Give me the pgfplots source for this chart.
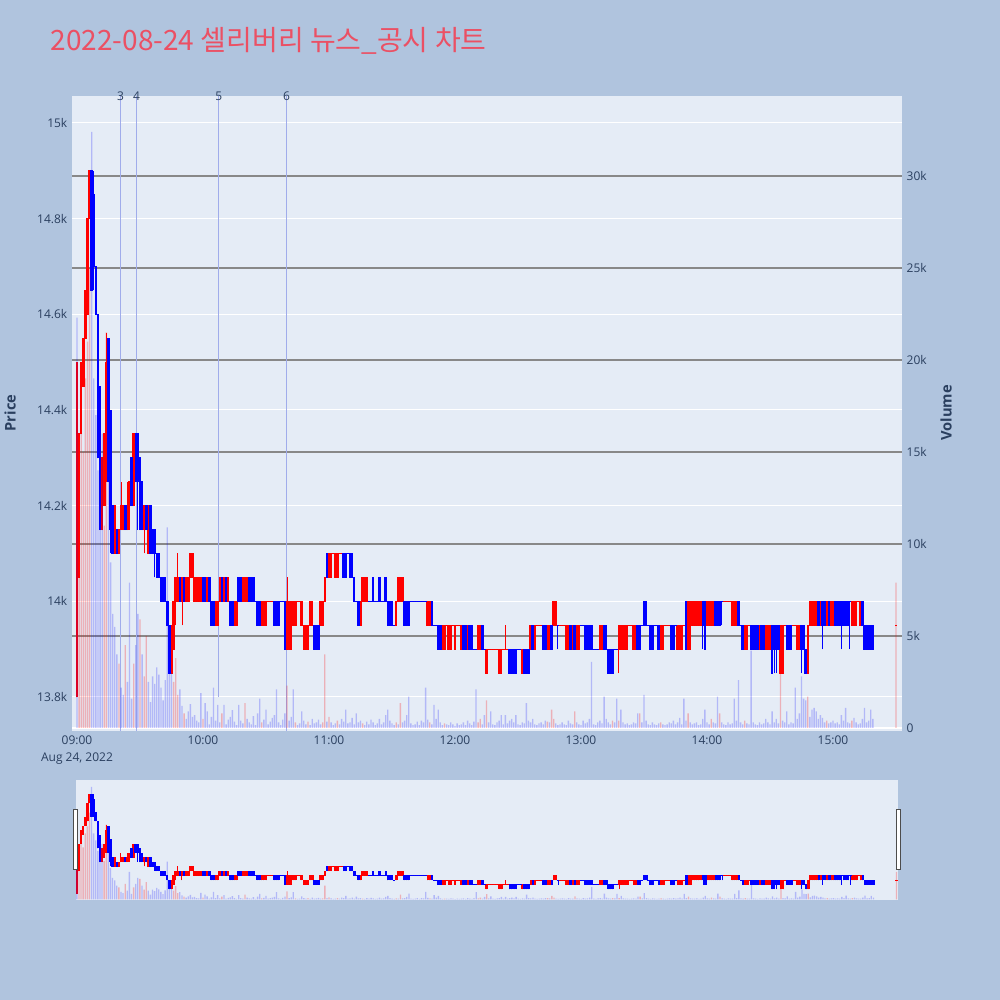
\documentclass[border=0pt]{standalone}
\usepackage{pgfplots}
\pgfplotsset{compat=1.18}
\usepackage{pgfplotstable}
\usepackage{fontspec}
\setmainfont{Open Sans}
\newfontfamily\kr{Noto Sans CJK KR}
\definecolor{pagebg}{HTML}{B0C4DE}
\definecolor{plotbg}{HTML}{E5ECF6}
\definecolor{txt}{HTML}{2A3F5F}
\definecolor{ttl}{RGB}{235,80,100}
\definecolor{vgrid}{RGB}{136,136,136}
\definecolor{evline}{RGB}{160,172,235}
\definecolor{cred}{RGB}{255,0,0}
\definecolor{cblue}{RGB}{0,0,255}

\pgfplotstableread[row sep=\\]{
m o h l c\\
0 13800 14500 13800 14500\\ 1 14050 14350 14050 14350\\ 2 14350 14500 14350 14500\\ 3 14450 14550 14450 14550\\
4 14550 14650 14550 14650\\ 5 14600 14800 14600 14800\\ 6 14800 14900 14800 14900\\ 12 14150 14300 14150 14300\\
13 14200 14350 14200 14350\\ 14 14250 14560 14250 14500\\ 18 14100 14200 14100 14200\\ 20 14100 14150 14100 14150\\
21 14150 14250 14150 14200\\ 22 14150 14200 14150 14200\\ 24 14150 14250 14150 14200\\ 25 14200 14250 14150 14250\\
27 14200 14350 14200 14350\\ 32 14150 14200 14100 14200\\ 34 14100 14200 14100 14200\\ 45 13850 13950 13850 13950\\
46 13900 14000 13900 14000\\ 47 14000 14050 13950 14050\\ 48 14000 14100 14000 14050\\ 50 14000 14050 13950 14050\\
52 14000 14050 14000 14050\\ 53 14000 14050 14000 14050\\ 54 14050 14100 14050 14100\\ 55 14050 14100 14050 14100\\
56 14000 14050 14000 14050\\ 57 14000 14050 14000 14050\\ 58 14000 14050 14000 14050\\ 59 14000 14050 14000 14050\\
62 14000 14050 14000 14050\\ 66 13950 14000 13950 14000\\ 67 13950 14000 13950 14000\\ 68 14000 14050 14000 14050\\
70 14000 14050 14000 14050\\ 72 14000 14050 14000 14050\\ 75 13950 14000 13950 14000\\ 76 13950 14000 13950 14000\\
79 14000 14050 14000 14050\\ 80 14000 14050 14000 14050\\ 81 14000 14050 14000 14050\\ 88 13950 14000 13950 14000\\
89 13950 14000 13950 14000\\ 90 13950 14000 13950 14000\\ 91 14000 14000 14000 14000\\ 92 14000 14000 14000 14000\\
93 14000 14000 14000 14000\\ 100 13900 14050 13900 14000\\ 101 13900 14000 13900 14000\\ 102 13900 14000 13900 14000\\
103 13950 14000 13950 14000\\ 104 13950 14000 13950 14000\\ 105 14000 14000 14000 14000\\ 106 14000 14000 14000 14000\\
107 13950 14000 13950 14000\\ 108 13900 13950 13900 13950\\ 109 13900 13950 13900 13950\\ 110 13900 13950 13900 13950\\
111 13950 14000 13950 14000\\ 112 13950 14000 13950 14000\\ 116 13950 14000 13950 14000\\ 117 13950 14000 13950 14000\\
118 14000 14050 14000 14050\\ 120 14050 14100 14050 14100\\ 121 14050 14100 14050 14100\\ 122 14100 14100 14100 14100\\
123 14050 14100 14050 14100\\ 124 14050 14100 14050 14100\\ 125 14100 14100 14100 14100\\ 126 14100 14100 14100 14100\\
135 13950 14000 13950 14000\\ 136 14000 14050 14000 14050\\ 137 14000 14050 14000 14050\\ 138 14000 14050 14000 14050\\
152 13950 14000 13950 14000\\ 153 14000 14050 14000 14050\\ 154 14000 14050 14000 14050\\ 155 14000 14050 14000 14050\\
167 13950 14000 13950 14000\\ 168 13950 14000 13950 14000\\ 174 13900 13950 13900 13950\\ 175 13900 13950 13900 13950\\
176 13950 13950 13950 13950\\ 177 13900 13950 13900 13950\\ 178 13900 13950 13900 13950\\ 179 13950 13950 13950 13950\\
180 13900 13950 13900 13950\\ 181 13950 13950 13950 13950\\ 182 13950 13950 13950 13950\\ 183 13900 13950 13900 13950\\
186 13900 13950 13900 13950\\ 191 13900 13950 13900 13950\\ 192 13900 13950 13900 13950\\ 195 13850 13900 13850 13900\\
196 13900 13900 13900 13900\\ 197 13900 13900 13900 13900\\ 198 13900 13900 13900 13900\\ 199 13900 13900 13900 13900\\
200 13900 13900 13900 13900\\ 201 13850 13900 13850 13900\\ 202 13850 13900 13850 13900\\ 203 13900 13900 13900 13900\\
204 13900 13950 13900 13900\\ 205 13900 13900 13900 13900\\ 212 13850 13900 13850 13900\\ 216 13900 13950 13900 13950\\
218 13900 13950 13900 13950\\ 219 13950 13950 13950 13950\\ 220 13950 13950 13950 13950\\ 221 13950 13950 13950 13950\\
224 13900 13950 13900 13950\\ 225 13900 13950 13900 13950\\ 227 13950 14000 13950 14000\\ 228 13950 14000 13950 14000\\
230 13950 13950 13950 13950\\ 231 13950 13950 13950 13950\\ 232 13950 13950 13950 13950\\ 233 13900 13950 13900 13950\\
234 13900 13950 13900 13950\\ 236 13900 13950 13900 13950\\ 238 13900 13950 13900 13950\\ 239 13900 13950 13900 13950\\
249 13900 13950 13900 13950\\ 250 13900 13950 13900 13950\\ 258 13900 13950 13850 13950\\ 259 13900 13950 13900 13950\\
260 13900 13950 13900 13950\\ 261 13900 13950 13900 13950\\ 262 13900 13950 13900 13950\\ 263 13950 13950 13950 13950\\
264 13950 13950 13950 13950\\ 265 13900 13950 13900 13950\\ 266 13900 13950 13900 13950\\ 278 13900 13950 13900 13950\\
279 13900 13950 13900 13950\\ 280 13950 13950 13950 13950\\ 281 13950 13950 13950 13950\\ 282 13950 13950 13950 13950\\
286 13900 13950 13900 13950\\ 287 13900 13950 13900 13950\\ 288 13900 13950 13900 13950\\ 289 13950 13950 13950 13950\\
291 13900 14000 13900 14000\\ 292 13900 14000 13900 14000\\ 293 13950 14000 13950 14000\\ 294 13950 14000 13950 14000\\
295 13950 14000 13950 14000\\ 296 13950 14000 13950 14000\\ 297 13950 14000 13950 14000\\ 300 13950 14000 13950 14000\\
301 13950 14000 13950 14000\\ 302 13950 14000 13950 14000\\ 303 13950 14000 13950 14000\\ 308 14000 14000 14000 14000\\
309 14000 14000 14000 14000\\ 310 14000 14000 14000 14000\\ 311 14000 14000 14000 14000\\ 312 13950 14000 13950 14000\\
313 13950 14000 13950 14000\\ 314 13950 14000 13950 14000\\ 318 13900 13950 13900 13950\\ 319 13900 13950 13900 13950\\
320 13950 13950 13950 13950\\ 325 13900 13950 13900 13950\\ 328 13900 13950 13900 13950\\ 329 13900 13950 13900 13950\\
330 13900 13950 13900 13950\\ 335 13850 13950 13850 13950\\ 336 13850 13950 13850 13950\\ 337 13950 13950 13950 13950\\
341 13950 13950 13950 13950\\ 342 13950 13950 13950 13950\\ 343 13900 13950 13900 13950\\ 344 13900 13950 13900 13950\\
348 13850 13950 13850 13950\\ 349 13950 14000 13950 14000\\ 350 13950 14000 13950 14000\\ 351 13950 14000 13950 14000\\
352 13950 14000 13950 14000\\ 354 13950 14000 13950 14000\\ 357 13950 14000 13950 14000\\ 359 13950 14000 13950 14000\\
360 13950 14000 13950 14000\\ 369 13950 14000 13950 14000\\ 370 13950 14000 13950 14000\\ 371 13950 14000 13950 14000\\
372 14000 14000 14000 14000\\ 373 13950 14000 13950 14000\\ 390 13950 13950 13950 13950\\
}\up

\pgfplotstableread[row sep=\\]{
m o h l c\\
7 14900 14900 14650 14650\\ 8 14850 14900 14650 14700\\ 9 14700 14700 14600 14600\\ 10 14600 14600 14300 14300\\
11 14450 14450 14150 14150\\ 15 14550 14550 14250 14250\\ 16 14400 14400 14100 14150\\ 17 14200 14200 14100 14100\\
19 14150 14150 14100 14100\\ 23 14200 14200 14150 14150\\ 26 14300 14300 14200 14200\\ 28 14350 14350 14250 14250\\
29 14350 14350 14150 14250\\ 30 14300 14300 14150 14150\\ 31 14250 14250 14150 14150\\ 33 14200 14200 14150 14150\\
35 14200 14200 14100 14100\\ 36 14150 14150 14100 14100\\ 37 14150 14150 14050 14100\\ 38 14100 14100 14050 14050\\
39 14100 14100 14050 14050\\ 40 14050 14050 14000 14000\\ 41 14050 14050 14000 14000\\ 42 14050 14050 14000 14000\\
43 14000 14000 13950 13950\\ 44 13950 13950 13850 13850\\ 49 14050 14050 14000 14000\\ 51 14050 14050 14000 14000\\
60 14050 14050 14000 14000\\ 61 14050 14050 14000 14000\\ 63 14050 14050 14000 14000\\ 64 14000 14000 13950 13950\\
65 14000 14000 13950 13950\\ 69 14050 14050 14000 14000\\ 71 14050 14050 14000 14000\\ 73 14000 14000 13950 13950\\
74 14000 14000 13950 13950\\ 77 14050 14050 14000 14000\\ 78 14050 14050 14000 14000\\ 82 14050 14050 14000 14000\\
83 14050 14050 14000 14000\\ 84 14050 14050 14000 14000\\ 85 14000 14000 14000 14000\\ 86 14000 14000 13950 13950\\
87 14000 14000 13950 13950\\ 94 14000 14000 13950 13950\\ 95 14000 14000 13950 13950\\ 96 14000 14000 13950 13950\\
97 14000 14000 14000 14000\\ 98 14000 14000 14000 14000\\ 99 14000 14000 13900 13900\\ 113 13950 13950 13900 13900\\
114 13950 13950 13900 13900\\ 115 13950 13950 13900 13900\\ 119 14100 14100 14050 14050\\ 127 14100 14100 14050 14050\\
128 14100 14100 14050 14050\\ 129 14100 14100 14100 14100\\ 130 14100 14100 14050 14050\\ 131 14100 14100 14050 14050\\
132 14050 14050 14000 14000\\ 133 14000 14000 14000 14000\\ 134 14000 14000 13950 13950\\ 139 14000 14000 14000 14000\\
140 14000 14000 14000 14000\\ 141 14050 14050 14000 14000\\ 142 14000 14000 14000 14000\\ 143 14000 14000 14000 14000\\
144 14050 14050 14000 14000\\ 145 14000 14000 14000 14000\\ 146 14000 14000 14000 14000\\ 147 14050 14050 14000 14000\\
148 14000 14000 13950 13950\\ 149 14000 14000 13950 13950\\ 150 14000 14000 13950 13950\\ 151 13950 13950 13950 13950\\
156 14000 14000 13950 13950\\ 157 14000 14000 13950 13950\\ 158 14000 14000 13950 13950\\ 159 14000 14000 14000 14000\\
160 14000 14000 14000 14000\\ 161 14000 14000 14000 14000\\ 162 14000 14000 14000 14000\\ 163 14000 14000 14000 14000\\
164 14000 14000 14000 14000\\ 165 14000 14000 14000 14000\\ 166 14000 14000 14000 14000\\ 169 14000 14000 13950 13950\\
170 13950 13950 13950 13950\\ 171 13950 13950 13950 13950\\ 172 13950 13950 13900 13900\\ 173 13950 13950 13900 13900\\
184 13950 13950 13900 13900\\ 185 13950 13950 13900 13900\\ 187 13950 13950 13900 13900\\ 188 13950 13950 13900 13900\\
189 13900 13900 13900 13900\\ 190 13900 13900 13900 13900\\ 193 13950 13950 13900 13900\\ 194 13900 13900 13900 13900\\
206 13900 13900 13850 13850\\ 207 13900 13900 13850 13850\\ 208 13900 13900 13850 13850\\ 209 13900 13900 13850 13850\\
210 13900 13900 13900 13900\\ 211 13900 13900 13900 13900\\ 213 13900 13900 13850 13850\\ 214 13900 13900 13850 13850\\
215 13900 13900 13850 13850\\ 217 13950 13950 13900 13900\\ 222 13950 13950 13900 13900\\ 223 13950 13950 13900 13900\\
226 13950 13950 13900 13900\\ 229 13950 13950 13900 13950\\ 235 13950 13950 13900 13900\\ 237 13950 13950 13900 13900\\
240 13950 13950 13950 13950\\ 241 13950 13950 13950 13950\\ 242 13950 13950 13900 13900\\ 243 13950 13950 13900 13900\\
244 13950 13950 13900 13900\\ 245 13950 13950 13900 13900\\ 246 13900 13900 13900 13900\\ 247 13900 13900 13900 13900\\
248 13900 13900 13900 13900\\ 251 13950 13950 13900 13900\\ 252 13950 13950 13900 13900\\ 253 13900 13900 13850 13850\\
254 13900 13900 13850 13850\\ 255 13900 13900 13850 13850\\ 256 13900 13900 13900 13900\\ 257 13900 13900 13900 13900\\
267 13950 13950 13900 13900\\ 268 13950 13950 13900 13900\\ 269 13950 13950 13950 13950\\ 270 14000 14000 13950 13950\\
271 14000 14000 13950 13950\\ 272 13950 13950 13950 13950\\ 273 13950 13950 13900 13900\\ 274 13950 13950 13900 13900\\
275 13950 13950 13950 13950\\ 276 13950 13950 13950 13950\\ 277 13950 13950 13900 13900\\ 283 13950 13950 13900 13900\\
284 13950 13950 13900 13900\\ 285 13950 13950 13950 13950\\ 290 14000 14000 13900 13900\\ 298 14000 14000 13900 13950\\
299 14000 14000 13900 13900\\ 304 14000 14000 13950 13950\\ 305 14000 14000 13950 13950\\ 306 14000 14000 13950 13950\\
307 14000 14000 13950 14000\\ 315 14000 14000 13950 13950\\ 316 13950 13950 13950 13950\\ 317 13950 13950 13900 13900\\
321 13950 13950 13900 13900\\ 322 13950 13950 13900 13900\\ 323 13950 13950 13900 13900\\ 324 13950 13950 13900 13900\\
326 13950 13950 13900 13900\\ 327 13950 13950 13900 13900\\ 331 13950 13950 13850 13850\\ 332 13950 13950 13850 13900\\
333 13950 13950 13850 13900\\ 334 13950 13950 13900 13900\\ 338 13950 13950 13900 13900\\ 339 13950 13950 13900 13900\\
340 13950 13950 13900 13900\\ 345 13950 13950 13850 13900\\ 346 13950 13950 13900 13900\\ 347 13900 13900 13850 13850\\
353 14000 14000 13950 13950\\ 355 14000 14000 13900 13950\\ 356 14000 14000 13950 13950\\ 358 14000 14000 13950 13950\\
361 14000 14000 13950 13950\\ 362 14000 14000 13950 13950\\ 363 14000 14000 13950 13950\\ 364 14000 14000 13900 14000\\
365 14000 14000 13950 13950\\ 366 14000 14000 13950 13950\\ 367 14000 14000 13950 13950\\ 368 14000 14000 13900 14000\\
374 14000 14000 13950 13950\\ 375 13950 13950 13900 13900\\ 376 13950 13950 13900 13900\\ 377 13950 13950 13900 13900\\
378 13950 13950 13900 13900\\ 379 13950 13950 13900 13900\\
}\dn

\pgfplotstableread[row sep=\\]{
m v\\
1 13000\\ 2 18000\\ 3 15000\\ 4 19000\\ 5 21000\\ 6 25000\\ 13 11000\\ 14 21500\\ 20 3500\\ 23 4500\\ 27 3500\\
30 5900\\ 32 2800\\ 33 5000\\ 46 2500\\ 47 3800\\ 48 1800\\ 51 800\\ 60 500\\ 69 800\\ 80 1350\\ 88 300\\
100 2300\\ 104 300\\ 110 350\\ 117 300\\ 118 4000\\ 120 600\\ 124 400\\ 136 250\\ 152 300\\ 154 1350\\ 168 300\\
175 250\\ 191 300\\ 192 500\\ 195 1500\\ 224 350\\ 226 1000\\ 227 500\\ 237 900\\ 255 400\\ 258 400\\ 268 800\\
278 300\\ 291 800\\ 302 500\\ 306 800\\ 318 400\\ 335 3000\\ 348 1700\\ 357 400\\ 369 400\\ 390 7900\\
}\vr

\pgfplotstableread[row sep=\\]{
m v\\
0 22300\\ 7 32400\\ 8 19000\\ 9 17000\\ 10 14000\\ 11 12000\\ 12 16000\\ 15 14000\\ 16 9000\\ 17 6200\\ 18 5500\\
19 4000\\ 21 2200\\ 22 1800\\ 24 2500\\ 25 7900\\ 26 1600\\ 28 4500\\ 29 6200\\ 31 4000\\ 34 2500\\ 35 1400\\
36 2800\\ 37 2400\\ 38 3300\\ 39 2900\\ 40 2200\\ 41 1500\\ 42 2600\\ 43 10900\\ 44 3300\\ 45 3000\\ 49 2100\\
50 1200\\ 52 500\\ 53 900\\ 54 1300\\ 55 600\\ 56 700\\ 57 400\\ 58 300\\ 59 1900\\ 61 1350\\ 62 900\\ 63 200\\
64 600\\ 65 2200\\ 66 400\\ 67 1250\\ 68 300\\
70 1250\\ 71 200\\ 72 450\\ 73 600\\ 74 970\\ 75 350\\ 76 150\\ 77 1250\\ 78 400\\ 79 250\\ 81 500\\ 82 300\\
83 200\\ 84 650\\ 85 150\\ 86 800\\ 87 1600\\ 89 450\\ 90 1000\\ 91 200\\ 92 350\\ 93 550\\ 94 700\\ 95 2100\\
96 300\\ 97 150\\ 98 450\\ 99 800\\ 101 400\\ 102 600\\ 103 2100\\ 105 150\\ 106 250\\ 107 900\\ 108 400\\
109 200\\ 111 150\\ 112 500\\ 113 250\\ 114 300\\ 115 450\\ 116 200\\ 119 350\\ 121 300\\ 122 150\\ 123 250\\
125 200\\ 126 500\\ 127 350\\ 128 1000\\ 129 250\\ 130 300\\ 131 550\\ 132 200\\ 133 800\\ 134 300\\ 135 400\\
137 150\\ 138 350\\ 139 200\\ 140 450\\ 141 300\\ 142 150\\ 143 250\\ 144 500\\ 145 200\\ 146 300\\ 147 700\\
148 1000\\ 149 400\\ 150 250\\ 151 150\\ 153 200\\ 155 300\\ 156 400\\ 157 700\\ 158 1700\\ 159 250\\ 160 150\\
161 200\\ 162 350\\ 163 150\\ 164 400\\ 165 300\\ 166 2200\\ 167 450\\ 169 200\\ 170 1250\\ 171 500\\ 172 1000\\
173 300\\ 174 150\\ 176 200\\ 177 150\\ 178 300\\ 179 200\\ 180 100\\ 181 250\\ 182 150\\ 183 200\\ 184 300\\
185 150\\ 186 400\\ 187 250\\ 188 150\\ 189 350\\ 190 2100\\ 193 200\\ 194 700\\ 196 300\\ 197 900\\ 198 200\\
199 150\\ 200 300\\ 201 400\\ 202 700\\ 203 200\\ 204 700\\ 205 250\\ 206 400\\ 207 500\\ 208 300\\ 209 700\\
210 200\\ 211 150\\ 212 300\\ 213 250\\ 214 1350\\ 215 400\\ 216 300\\ 217 500\\ 218 200\\ 219 150\\ 220 250\\
221 300\\ 222 200\\ 223 400\\ 225 300\\ 228 250\\ 229 150\\ 230 200\\ 231 300\\ 232 200\\ 233 150\\ 234 400\\
235 250\\ 236 200\\ 238 300\\ 239 200\\ 240 150\\ 241 400\\ 242 250\\ 243 300\\ 244 500\\ 245 3600\\ 246 200\\
247 150\\ 248 300\\ 249 400\\ 250 250\\ 251 1700\\ 252 500\\ 253 300\\ 254 200\\ 256 300\\ 257 1600\\ 259 1000\\
260 300\\ 261 200\\ 262 250\\ 263 150\\ 264 200\\ 265 300\\ 266 250\\ 267 800\\ 269 300\\ 270 1800\\ 271 400\\
272 200\\ 273 150\\ 274 300\\ 275 200\\ 276 150\\ 277 250\\ 279 200\\ 280 150\\ 281 200\\ 282 300\\ 283 250\\
284 400\\ 285 200\\ 286 300\\ 287 550\\ 288 200\\ 289 1600\\ 290 400\\ 292 300\\ 293 200\\ 294 250\\ 295 300\\
296 150\\ 297 200\\ 298 500\\ 299 1000\\ 300 300\\ 301 200\\ 303 300\\ 304 250\\ 305 1700\\ 307 300\\ 308 200\\
309 150\\ 310 300\\ 311 200\\ 312 250\\ 313 1600\\ 314 400\\ 315 2600\\ 316 300\\ 317 200\\ 319 250\\ 320 200\\
321 4200\\ 322 300\\ 323 200\\ 324 150\\ 325 300\\ 326 200\\ 327 250\\ 328 500\\ 329 300\\ 330 200\\ 331 900\\
332 300\\ 333 500\\ 334 250\\ 336 400\\ 337 300\\ 338 900\\ 339 200\\ 340 300\\ 341 250\\ 342 2200\\ 343 500\\
344 800\\ 345 2800\\ 346 1600\\ 347 1500\\ 349 600\\ 350 1000\\ 351 1100\\ 352 900\\ 353 500\\ 354 700\\ 355 550\\
356 300\\ 358 250\\ 359 300\\ 360 400\\ 361 250\\ 362 300\\ 363 200\\ 364 700\\ 365 400\\ 366 1100\\ 367 300\\
368 250\\ 370 550\\ 371 300\\ 372 200\\ 373 250\\ 374 500\\ 375 1100\\ 376 300\\ 377 400\\ 378 1000\\ 379 500\\
}\vb

\newcommand\candles[2]{%
\addplot[only marks, mark=*, mark size=0pt, mark options={draw=none, fill=none}, forget plot,
  error bars/.cd, y dir=plus, y explicit, error mark=none,
  error bar style={line width=0.75pt, draw=#2}]
  table[x=m, y=l, y error expr=\thisrow{h}-\thisrow{l}] {#1};
\addplot[only marks, mark=*, mark size=0pt, mark options={draw=none, fill=none}, forget plot,
  error bars/.cd, y dir=plus, y explicit, error mark=none,
  error bar style={line width=1.9pt, draw=#2}]
  table[x=m, y expr={min(\thisrow{o},\thisrow{c})-1}, y error expr={abs(\thisrow{c}-\thisrow{o})+2}] {#1};
}

\pgfplotsset{
  mainax/.style={scale only axis, width=622.5pt, height=476.25pt, at={(54pt,201.75pt)}, anchor=south west,
    xmin=-2.381, xmax=392.857, axis line style={draw=none}, tick style={draw=none},
    scaled y ticks=false, scaled x ticks=false,
    ticklabel style={font=\fontsize{9}{12.75}\selectfont, text=txt}},
  priceax/.style={ymin=13728.9, ymax=15056.4},
  volax/.style={ymin=-163, ymax=34348},
  slideax/.style={scale only axis, width=616.5pt, height=90pt, at={(57pt,75pt)}, anchor=south west,
    xmin=-0.4, xmax=390.7, hide axis},
}

\begin{document}
\begin{tikzpicture}
\useasboundingbox (0,0) rectangle (750pt,750pt);
\fill[pagebg] (0,0) rectangle (750pt,750pt);

% price grid + background
\begin{axis}[mainax, priceax, axis background/.style={fill=plotbg},
  ymajorgrids, major grid style={white, line width=0.75pt},
  ytick={13800,14000,14200,14400,14600,14800,15000},
  yticklabels={13.8k,14k,14.2k,14.4k,14.6k,14.8k,15k},
  xtick={0,60,120,180,240,300,360},
  xticklabels={{09:00\\Aug 24, 2022},10:00,11:00,12:00,13:00,14:00,15:00},
  xticklabel style={align=center}]
\addplot[draw=none] coordinates {(0,14000)};
\end{axis}

% volume grid
\begin{axis}[mainax, volax, yticklabel pos=right,
  ymajorgrids, major grid style={vgrid, line width=0.9pt},
  ytick={5000,10000,15000,20000,25000,30000},
  yticklabels={5k,10k,15k,20k,25k,30k},
  extra y ticks={0}, extra y tick labels={0},
  extra y tick style={grid=major, major grid style={white, line width=1.5pt}},
  xtick=\empty]
\addplot[draw=none] coordinates {(0,0)};
\end{axis}

% candles and event lines
\begin{axis}[mainax, priceax, hide axis, clip=false]
\addplot[evline, line width=0.8pt] coordinates {(20.8,13728.9) (20.8,15056.4)};
\addplot[evline, line width=0.8pt] coordinates {(28.4,13728.9) (28.4,15056.4)};
\addplot[evline, line width=0.8pt] coordinates {(67.5,13800) (67.5,15056.4)};
\addplot[evline, line width=0.8pt] coordinates {(99.8,13728.9) (99.8,15056.4)};
\candles{\up}{cred}
\candles{\dn}{cblue}
\node[font=\fontsize{9}{10}\selectfont, text=txt] at (axis cs:20.8,15056.4) {3};
\node[font=\fontsize{9}{10}\selectfont, text=txt] at (axis cs:28.4,15056.4) {4};
\node[font=\fontsize{9}{10}\selectfont, text=txt] at (axis cs:67.5,15056.4) {5};
\node[font=\fontsize{9}{10}\selectfont, text=txt] at (axis cs:99.8,15056.4) {6};
\end{axis}

% volume bars
\begin{axis}[mainax, volax, hide axis]
\addplot[ybar, bar width=1pt, bar shift=0pt, fill=cred, fill opacity=0.25, draw=none] table[x=m, y=v] {\vr};
\addplot[ybar, bar width=1pt, bar shift=0pt, fill=cblue, fill opacity=0.22, draw=none] table[x=m, y=v] {\vb};
\end{axis}

% range slider
\fill[plotbg] (57pt,75pt) rectangle (673.5pt,165pt);
\begin{axis}[slideax, priceax]
\candles{\up}{cred}
\candles{\dn}{cblue}
\end{axis}
\begin{axis}[slideax, volax]
\addplot[ybar, bar width=1pt, bar shift=0pt, fill=cred, fill opacity=0.25, draw=none] table[x=m, y=v] {\vr};
\addplot[ybar, bar width=1pt, bar shift=0pt, fill=cblue, fill opacity=0.22, draw=none] table[x=m, y=v] {\vb};
\end{axis}
\draw[fill=white, draw=black!70, line width=0.75pt] (54.75pt,97.5pt) rectangle (57.75pt,142.5pt);
\draw[fill=white, draw=black!70, line width=0.75pt] (672pt,97.5pt) rectangle (675pt,142.5pt);

% titles
\node[anchor=base west, text=ttl, font=\kr\fontsize{21}{25}\selectfont] at (34.5pt,712.1pt) {2022-08-24 셀리버리 뉴스\_공시 차트};
\node[rotate=90, font=\bfseries\fontsize{11}{13}\selectfont, text=txt] at (7.5pt,440.25pt) {Price};
\node[rotate=90, font=\bfseries\fontsize{11}{13}\selectfont, text=txt] at (709.5pt,440.25pt) {Volume};
\end{tikzpicture}
\end{document}
